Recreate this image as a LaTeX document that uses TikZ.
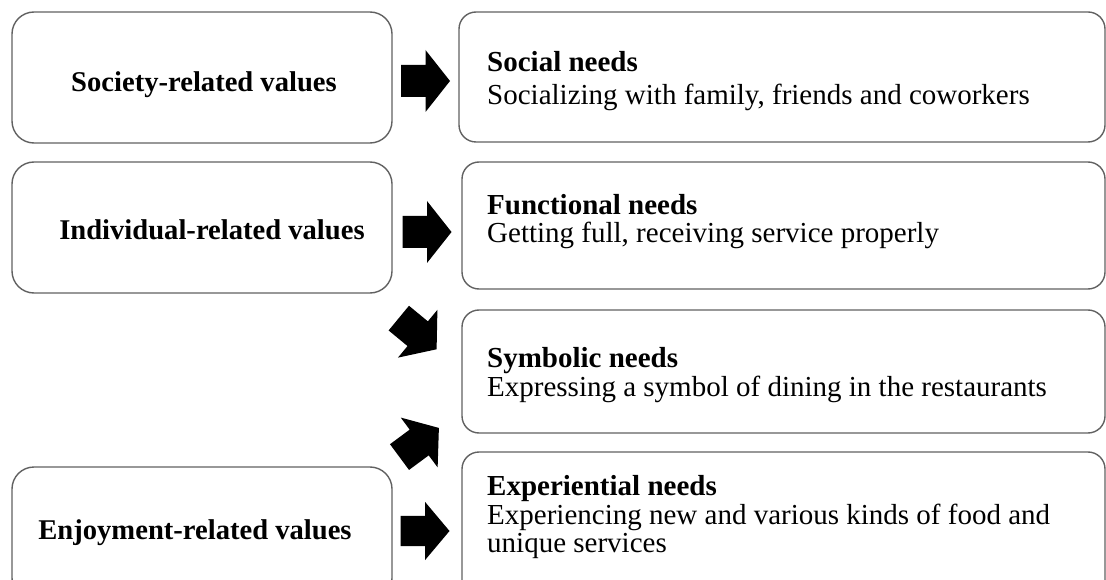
\documentclass[tikz,border=0pt]{standalone}
\usepackage{fontspec}
\setmainfont{Liberation Serif}
\begin{document}
\begin{tikzpicture}[x=1pt,y=-1pt,
  lbox/.style={draw=black!62,line width=1.4pt,rounded corners=22pt,inner sep=0pt},
  rbox/.style={draw=black!62,line width=1.4pt,rounded corners=17pt,inner sep=0pt},
  ltext/.style={anchor=base,inner sep=0pt,font=\fontsize{28.6}{32}\selectfont\bfseries},
  rtitle/.style={anchor=base west,inner sep=0pt,font=\fontsize{29}{32}\selectfont\bfseries},
  rtext/.style={anchor=base west,inner sep=0pt,font=\fontsize{29}{32}\selectfont},
  barrow/.pic={\fill[black] (-24.5,-16) -- (0,-16) -- (0,-31) -- (24.5,0) -- (0,31) -- (0,16) -- (-24.5,16) -- cycle;}
]
\useasboundingbox (0,0) rectangle (1106,580);
\clip (0,0) rectangle (1106,580);
% left boxes
\node[lbox,minimum width=380pt,minimum height=131pt] (soc) at (202,77.5) {};
\node[lbox,minimum width=380pt,minimum height=131pt] (ind) at (202,227.5) {};
\node[lbox,minimum width=380pt,minimum height=133pt] (enj) at (202,533.5) {};
\node[ltext] (soct) at (204,92) {Society-related values};
\node[ltext] (indt) at (212,240) {Individual-related values};
\node[ltext] (enjt) at (195,539) {Enjoyment-related values};
% right boxes
\node[rbox,minimum width=646pt,minimum height=130pt] (socn) at (782,77) {};
\node[rbox,minimum width=643pt,minimum height=127pt] (fun) at (783.5,225.5) {};
\node[rbox,minimum width=643pt,minimum height=123pt] (sym) at (783.5,371.5) {};
\node[rbox,minimum width=643pt,minimum height=148pt] (exp) at (783.5,526) {};
\node[rtitle] (socn1) at (487,72) {Social needs};
\node[rtext] (socn2) at (487,105) {Socializing with family, friends and coworkers};
\node[rtitle] (fun1) at (487,215) {Functional needs};
\node[rtext] (fun2) at (487,243) {Getting full, receiving service properly};
\node[rtitle] (sym1) at (487,367) {Symbolic needs};
\node[rtext] (sym2) at (487,396) {Expressing a symbol of dining in the restaurants};
\node[rtitle] (exp1) at (487,495) {Experiential needs};
\node[rtext] (exp2) at (487,524) {Experiencing new and various kinds of food and};
\node[rtext] (exp3) at (487,552) {unique services};
% block arrows
\pic at (425.5,81) {barrow};
\pic at (427,232) {barrow};
\pic[rotate=-39.5] at (417.7,333.7) {barrow};
\pic[rotate=36.5] at (419.2,442.5) {barrow};
\pic[yscale=0.94] at (425,531) {barrow};
\end{tikzpicture}
\end{document}
